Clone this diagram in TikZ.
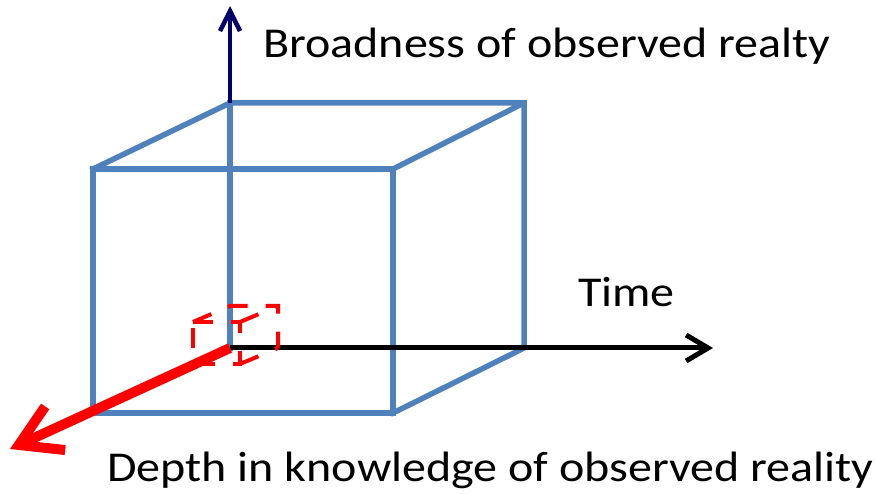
\documentclass[tikz,border=0pt]{standalone}
\usepackage{fontspec}
\setmainfont{Carlito}[FakeStretch=1.13]
\usetikzlibrary{arrows.meta}
\definecolor{cubeblue}{RGB}{79,129,189}
\definecolor{navyarrow}{RGB}{0,0,110}
\begin{document}
\begin{tikzpicture}[x=1pt,y=-1pt,
  cubeline/.style={draw=cubeblue, line width=5.5pt, line join=miter, miter limit=1.5, line cap=rect},
  axislabel/.style={anchor=base west, inner sep=0pt, font=\fontsize{42.5}{50}\selectfont},
  smallcube/.style={draw=red, line width=4pt, dash pattern=on 20pt off 18pt},
  timearrow/.style={draw=black, line width=5pt, -{Straight Barb[length=22pt, width=26pt]}},
  upvarrow/.style={draw=navyarrow, line width=4.5pt, -{Straight Barb[length=20pt, width=20pt]}},
  deptharrow/.style={draw=red, line width=10pt, -{Straight Barb[length=40pt, width=48pt]}}]
\useasboundingbox (0,0) rectangle (876,494);
% big cube corners
\coordinate (FTL) at (93,169);
\coordinate (FTR) at (393,169);
\coordinate (FBR) at (393,413);
\coordinate (FBL) at (93,413);
\coordinate (BTL) at (230,103);
\coordinate (BTR) at (524,103);
\coordinate (BBR) at (524,348);
\coordinate (O) at (230,348);
% arrow ends
\coordinate (timeend) at (713,348);
\coordinate (upend) at (230,6);
\coordinate (depthend) at (10,449);
% small cube corners
\coordinate (sBTL) at (230,306);
\coordinate (sBTR) at (278,306);
\coordinate (sBBR) at (278,348);
\coordinate (sFTL) at (193,322);
\coordinate (sFTR) at (240,322);
\coordinate (sFBR) at (240,364);
\coordinate (sFBL) at (193,364);
% big cube
\draw[cubeline] (FTL) -- (FTR) -- (FBR) -- (FBL) -- cycle;
\draw[cubeline] (FTL) -- (BTL) -- (BTR) -- (FTR);
\draw[cubeline] (BTR) -- (BBR) -- (FBR);
\draw[cubeline] (BTL) -- (O);
% time axis
\draw[timearrow] (O) -- (timeend);
% small dashed cube
\draw[smallcube] (sFTL) -- (sFTR) -- (sFBR) -- (sFBL) -- cycle;
\draw[smallcube] (sFTL) -- (sBTL) -- (sBTR) -- (sBBR);
\draw[smallcube] (sFTR) -- (sBTR);
\draw[smallcube] (sFBR) -- (sBBR);
% vertical axis
\draw[upvarrow] (BTL) -- (upend);
% depth axis
\draw[deptharrow] (O) -- (depthend);
% labels
\node[axislabel] (broad) at (263,58) {Broadness of observed realty};
\node[axislabel] (time) at (578,307) {Time};
\node[axislabel] (depth) at (107,481) {Depth in knowledge of observed reality};
\end{tikzpicture}
\end{document}
